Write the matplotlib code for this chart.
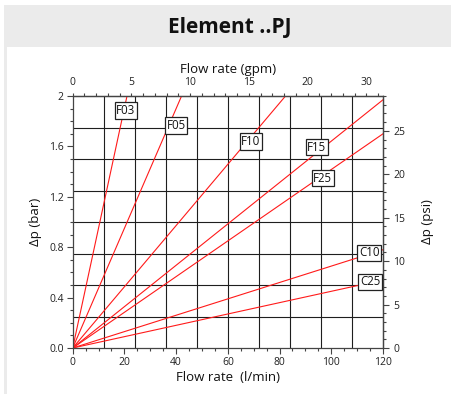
import matplotlib
matplotlib.use('Agg')
import matplotlib.pyplot as plt
from matplotlib.patches import Rectangle
import numpy as np

plt.rcParams['font.family'] = ['Open Sans', 'DejaVu Sans']

# - data
series_names = ['F03', 'F05', 'F10', 'F15', 'F25', 'C10', 'C25']
end_flow = [21.0, 42.1, 82.3, 120.0, 120.0, 120.0, 120.0]   # l/min
end_dp = [2.0, 2.0, 2.0, 1.97, 1.70, 0.78, 0.54]            # bar
label_flow = [20.6, 40.0, 68.9, 94.4, 96.7, 114.7, 115.0]
label_dp = [1.885, 1.766, 1.639, 1.593, 1.347, 0.756, 0.524]

grid_flow = [12, 24, 36, 48, 60, 72, 84, 96, 108]
grid_dp = [0.25, 0.5, 0.75, 1.0, 1.25, 1.5, 1.75]

bar_ticks = [0.0, 0.4, 0.8, 1.2, 1.6, 2.0]
bar_labels = ['0.0', '0.4', '0.8', '1.2', '1.6', '2']
lpm_ticks = [0, 20, 40, 60, 80, 100, 120]
gpm_ticks = [0, 6, 12, 18, 24, 30]
gpm_labels = ['0', '5', '10', '15', '20', '30']
psi_ticks = [0, 5, 10, 15, 20, 25]

LPM_PER_GPM = 3.785
PSI_PER_BAR = 14.5038

fig = plt.figure(figsize=(4.52, 3.94), dpi=100)

# - panel background
fig.patches.append(Rectangle((4/452, 0), 2, 1 - 5/394, transform=fig.transFigure,
                             facecolor='#ebebeb', edgecolor='none', zorder=-2))
fig.patches.append(Rectangle((7/452, -1), 2, 2 - 47/394, transform=fig.transFigure,
                             facecolor='white', edgecolor='none', zorder=-1))
fig.text(230/452, 1 - 27/394, 'Element ..PJ', ha='center', va='center',
         fontsize=15, fontweight='bold', color='#111111')

ax = fig.add_axes([72.7/452, 1 - 348/394, 310.3/452, 252/394])
ax.set_xlim(0, 120)
ax.set_ylim(0, 2)
ax.patch.set_alpha(0)

for g in grid_flow:
    ax.axvline(g, color='#1e1e1e', lw=0.8, zorder=1)
for g in grid_dp:
    ax.axhline(g, color='#1e1e1e', lw=0.8, zorder=1)

for name, xf, yf in zip(series_names, end_flow, end_dp):
    ax.plot([0, xf], [0, yf], color='#ff1a1a', lw=0.8, zorder=2)

for name, lx, ly in zip(series_names, label_flow, label_dp):
    ax.text(lx, ly, name, ha='center', va='center', fontsize=8.3, color='#111111',
            zorder=4, bbox=dict(boxstyle='square,pad=0.14', fc='white',
                                ec='#222222', lw=0.9))

tick_col = '#444444'
for sp in ax.spines.values():
    sp.set_color(tick_col)
    sp.set_linewidth(0.9)

ax.set_xticks(lpm_ticks)
ax.set_xticks(np.arange(0, 121, 5), minor=True)
ax.set_yticks(bar_ticks, bar_labels)
ax.set_yticks(np.arange(0, 2.01, 0.1), minor=True)
ax.tick_params(which='major', length=4.5, width=0.8, color=tick_col,
               labelsize=7.5, labelcolor='#222222', pad=2)
ax.tick_params(which='minor', length=2.5, width=0.8, color=tick_col)
ax.set_xlabel('Flow rate  (l/min)', fontsize=9.5, color='#111111', labelpad=2)
ax.set_ylabel('Δp (bar)', fontsize=9.5, color='#111111', labelpad=5)

top = ax.secondary_xaxis('top', functions=(lambda v: v / LPM_PER_GPM,
                                           lambda v: v * LPM_PER_GPM))
top.set_xticks(gpm_ticks, gpm_labels)
top.set_xticks(np.arange(0, 31.3, 1.2), minor=True)
top.tick_params(which='major', length=2.5, width=0.8, color=tick_col,
                labelsize=7.5, labelcolor='#222222', pad=3)
top.tick_params(which='minor', length=2.5, width=0.8, color=tick_col)
top.set_xlabel('Flow rate (gpm)', fontsize=9.5, color='#111111', labelpad=3)

right = ax.secondary_yaxis('right', functions=(lambda v: v * PSI_PER_BAR,
                                               lambda v: v / PSI_PER_BAR))
right.set_yticks(psi_ticks)
right.set_yticks(np.arange(0, 29.1, 1), minor=True)
right.tick_params(which='major', length=4.5, width=0.8, color=tick_col,
                  labelsize=7.5, labelcolor='#222222', pad=3)
right.tick_params(which='minor', length=2.5, width=0.8, color=tick_col)
right.set_ylabel('Δp (psi)', fontsize=9.5, color='#111111', labelpad=11)
for sp in (top.spines['top'], right.spines['right']):
    sp.set_color(tick_col)
    sp.set_linewidth(0.9)

plt.savefig('out.png', dpi=100)
plt.close()
